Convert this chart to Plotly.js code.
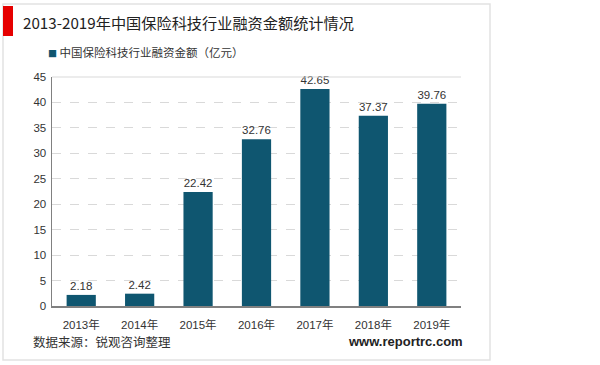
<!DOCTYPE html>
<html><head><meta charset="utf-8">
<script src="https://cdn.plot.ly/plotly-3.0.1.min.js"></script>
<style>body{margin:0;background:#fff}#c{width:600px;height:365px}</style>
</head><body><div id="c"></div>
<script>
const years = ['2013年','2014年','2015年','2016年','2017年','2018年','2019年'];
const amounts = [2.18, 2.42, 22.42, 32.76, 42.65, 37.37, 39.76];
const seriesName = '中国保险科技行业融资金额（亿元）';
const titleText = '2013-2019年中国保险科技行业融资金额统计情况';
const sourceText = '数据来源：锐观咨询整理';
const siteText = 'www.reportrc.com';
const barColor = '#0f5670';
const F = 'Liberation Sans, Arial, Noto Sans CJK SC, sans-serif';
const L = 52, R = 461, T = 77, B = 306, W = R - L, H = B - T;
const px = x => (x - L) / W, py = y => (B - y) / H;

const trace = {
  type: 'bar', x: years, y: amounts, name: seriesName,
  marker: {color: barColor},
  text: amounts.map(v => v.toFixed(2)), textposition: 'outside',
  textfont: {family: F, size: 11.5, color: '#333'}, cliponaxis: false,
  hoverinfo: 'none'
};
const layout = {
  width: 600, height: 365,
  margin: {l: L, r: 600 - R, t: T, b: 365 - B},
  paper_bgcolor: '#fff', plot_bgcolor: '#fff',
  bargap: 0.5, showlegend: false,
  font: {family: F, color: '#333'},
  xaxis: {showline: true, linecolor: '#808080', linewidth: 1.5, ticks: '',
    ticklabelstandoff: 8,
    tickfont: {family: F, size: 11.5, color: '#333'}, fixedrange: true},
  yaxis: {range: [0, 45], dtick: 5, showline: true, linecolor: '#808080', linewidth: 1.5,
    gridcolor: '#d9d9d9', griddash: 'dash', zeroline: false, ticks: '',
    ticklabelstandoff: 2,
    tickfont: {family: F, size: 11.5, color: '#333'}, fixedrange: true},
  shapes: [
    {type: 'rect', xref: 'paper', yref: 'paper', x0: px(3), x1: px(490), y0: py(360), y1: py(4),
      line: {color: '#e2e2e2', width: 1.5}, fillcolor: 'rgba(0,0,0,0)', layer: 'below'},
    {type: 'rect', xref: 'paper', yref: 'paper', x0: px(3), x1: px(13), y0: py(36), y1: py(6),
      line: {width: 0}, fillcolor: '#e60000'},
    {type: 'line', xref: 'paper', yref: 'paper', x0: 0, x1: 1, y0: 1, y1: 1,
      line: {color: '#d9d9d9', width: 1}}
  ],
  annotations: [
    {xref: 'paper', yref: 'paper', x: px(21), y: py(22), xanchor: 'left', yanchor: 'middle',
      text: titleText, showarrow: false, font: {family: 'Noto Sans CJK SC, sans-serif', size: 15.2, color: '#222'}},
    {xref: 'paper', yref: 'paper', x: px(46), y: py(52), xanchor: 'left', yanchor: 'middle',
      text: '<span style="color:' + barColor + ';font-size:9px">■</span> ' + seriesName, showarrow: false,
      font: {family: 'Noto Sans CJK SC, sans-serif', size: 11.5, color: '#333'}},
    {xref: 'paper', yref: 'paper', x: px(31), y: py(341), xanchor: 'left', yanchor: 'middle',
      text: sourceText, showarrow: false, font: {family: 'Noto Sans CJK SC, sans-serif', size: 12.5, color: '#333'}},
    {xref: 'paper', yref: 'paper', x: px(465), y: py(341), xanchor: 'right', yanchor: 'middle',
      text: '<b>' + siteText + '</b>', showarrow: false, font: {family: F, size: 13, color: '#222'}}
  ]
};
Plotly.newPlot('c', [trace], layout, {displayModeBar: false, staticPlot: true});
</script></body></html>
